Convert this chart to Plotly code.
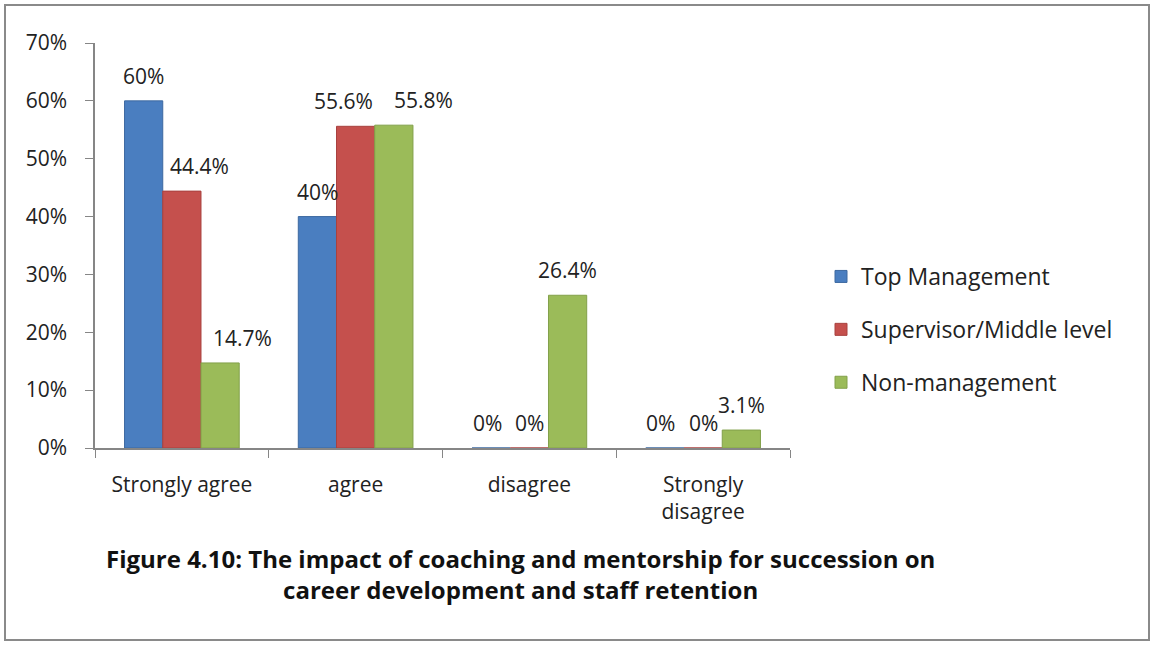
import plotly.graph_objects as go

categories = ["Strongly agree", "agree", "disagree", "Strongly<br>disagree"]
series_names = ["Top Management", "Supervisor/Middle level", "Non-management"]
top_management = [60, 40, 0, 0]
supervisor_middle = [44.4, 55.6, 0, 0]
non_management = [14.7, 55.8, 26.4, 3.1]
series_values = [top_management, supervisor_middle, non_management]
series_colors = ["#4A7EC0", "#C5504D", "#9BBB59"]
line_colors = ["#3D69A0", "#A8413F", "#82A04A"]
y_ticks = [0, 10, 20, 30, 40, 50, 60, 70]
y_tick_text = [f"{v}%" for v in y_ticks]

W, H = 1154, 645
L, R, T, B = 95, 790, 43, 448  # plot area in pixels
BARGAP = 0.34

FONT = "Open Sans"
TEXT = "#222222"

# horizontal nudges (px) for data labels that would otherwise collide
label_nudge = {(1, 0): 18, (2, 0): 22, (1, 1): -12, (2, 1): 30,
               (0, 2): -4, (0, 3): -4}

fig = go.Figure()
for i, (name, vals) in enumerate(zip(series_names, series_values)):
    fig.add_trace(go.Bar(
        name=name,
        x=categories,
        y=vals,
        marker=dict(color=series_colors[i], line=dict(color=line_colors[i], width=1)),
        legendgroup=name,
    ))

# data labels above each bar
cat_px = (R - L) / len(categories)
bar_px = cat_px * (1 - BARGAP) / len(series_names)
for i, vals in enumerate(series_values):
    offset = (i - (len(series_names) - 1) / 2) * bar_px
    for j, v in enumerate(vals):
        fig.add_annotation(
            x=categories[j], y=v, xref="x", yref="y",
            text=f"{v:g}%", showarrow=False,
            xanchor="center", yanchor="bottom",
            xshift=offset + label_nudge.get((i, j), 0), yshift=9,
            font=dict(family=FONT, size=21, color=TEXT),
        )


def px_x(x):
    return (x - L) / (R - L)


def px_y(y):
    return (B - y) / (B - T)


# outer frame around the figure
fig.add_shape(type="rect", xref="paper", yref="paper",
              x0=px_x(5), x1=px_x(1149), y0=px_y(640), y1=px_y(5),
              line=dict(color="#8a8a8a", width=2), fillcolor="rgba(0,0,0,0)")

fig.add_annotation(
    xref="paper", yref="paper", x=px_x(520), y=px_y(574),
    text="<b>Figure 4.10: The impact of coaching and mentorship for succession on<br>career development and staff retention</b>",
    showarrow=False, align="center", xanchor="center", yanchor="middle",
    font=dict(family=FONT, size=24, color="#111111"),
)

fig.update_layout(
    width=W, height=H,
    margin=dict(l=L, r=W - R, t=T, b=H - B, pad=0),
    paper_bgcolor="white", plot_bgcolor="white",
    barmode="group", bargap=BARGAP, bargroupgap=0,
    font=dict(family=FONT, size=21, color=TEXT),
    legend=dict(
        x=px_x(821), y=px_y(255), xanchor="left", yanchor="top",
        font=dict(family=FONT, size=23, color=TEXT),
        tracegroupgap=20, itemwidth=30,
        bgcolor="rgba(0,0,0,0)",
    ),
    showlegend=True,
    xaxis=dict(
        showline=True, linecolor="#868686", linewidth=1.5,
        ticks="outside", ticklen=8, tickcolor="#868686", tickson="boundaries",
        showgrid=False, tickfont=dict(family=FONT, size=21, color=TEXT),
        ticklabelstandoff=17,
    ),
    yaxis=dict(
        range=[0, 70], tickvals=y_ticks, ticktext=y_tick_text,
        showline=True, linecolor="#868686", linewidth=1.5,
        ticks="outside", ticklen=8, tickcolor="#868686",
        showgrid=False, zeroline=False,
        tickfont=dict(family=FONT, size=21, color=TEXT),
        ticklabelstandoff=14,
    ),
)

fig.write_html("out.html")
